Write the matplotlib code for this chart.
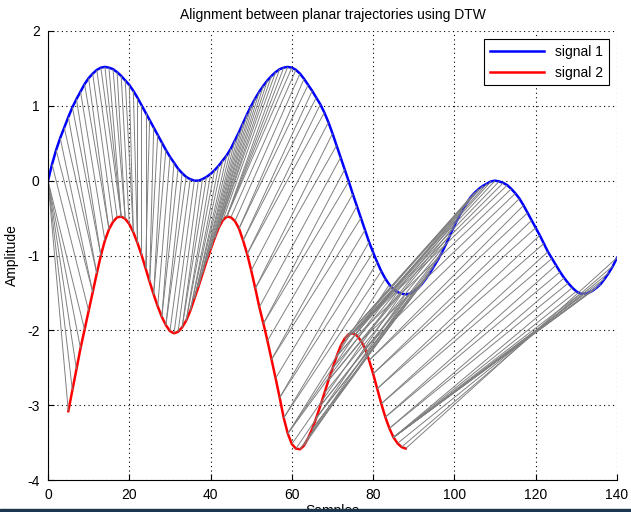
import numpy as np
import matplotlib.pyplot as plt
from matplotlib.collections import LineCollection
from matplotlib.patches import Rectangle

plt.rcParams["font.family"] = ["Liberation Sans", "DejaVu Sans"]
plt.rcParams["axes.unicode_minus"] = False

# signal 1: samples 0..140
x1 = list(range(0, 141))
signal1 = [
    0.00, 0.22, 0.41, 0.57, 0.71, 0.85, 0.98, 1.09, 1.19, 1.29,
    1.37, 1.43, 1.48, 1.51, 1.52, 1.51, 1.49, 1.45, 1.40, 1.34,
    1.28, 1.20, 1.11, 1.01, 0.91, 0.81, 0.71, 0.61, 0.51, 0.41,
    0.32, 0.24, 0.16, 0.10, 0.05, 0.02, 0.00, 0.00, 0.02, 0.05,
    0.09, 0.14, 0.20, 0.27, 0.34, 0.43, 0.54, 0.65, 0.77, 0.89,
    1.00, 1.10, 1.19, 1.27, 1.34, 1.40, 1.45, 1.49, 1.51, 1.52,
    1.51, 1.48, 1.43, 1.36, 1.28, 1.20, 1.11, 1.02, 0.91, 0.78,
    0.63, 0.47, 0.31, 0.15, -0.01, -0.18, -0.34, -0.50, -0.66, -0.82,
    -0.96, -1.09, -1.21, -1.31, -1.39, -1.45, -1.49, -1.51, -1.52, -1.51,
    -1.48, -1.44, -1.38, -1.31, -1.23, -1.14, -1.05, -0.95, -0.84, -0.72,
    -0.60, -0.49, -0.39, -0.30, -0.22, -0.16, -0.11, -0.07, -0.04, -0.01,
    0.00, -0.01, -0.03, -0.06, -0.11, -0.17, -0.24, -0.33, -0.43, -0.53,
    -0.63, -0.73, -0.84, -0.95, -1.04, -1.13, -1.22, -1.30, -1.37, -1.43,
    -1.48, -1.51, -1.51, -1.50, -1.47, -1.43, -1.38, -1.31, -1.23, -1.14,
    -1.03,
]

# signal 2: samples 5..88
x2 = list(range(5, 89))
signal2 = [
    -3.08, -2.80, -2.52, -2.24, -1.99, -1.74, -1.49, -1.24, -1.00, -0.80,
    -0.65, -0.55, -0.49, -0.48, -0.51, -0.58, -0.69, -0.83, -0.99, -1.17,
    -1.35, -1.52, -1.68, -1.82, -1.93, -2.01, -2.04, -2.02, -1.96, -1.87,
    -1.74, -1.58, -1.42, -1.25, -1.08, -0.92, -0.77, -0.63, -0.53, -0.48,
    -0.49, -0.54, -0.64, -0.80, -0.98, -1.20, -1.44, -1.69, -1.91, -2.14,
    -2.39, -2.64, -2.90, -3.17, -3.38, -3.52, -3.58, -3.59, -3.54, -3.44,
    -3.32, -3.17, -3.01, -2.84, -2.67, -2.51, -2.35, -2.21, -2.11, -2.05,
    -2.04, -2.07, -2.14, -2.24, -2.40, -2.58, -2.78, -2.98, -3.16, -3.31,
    -3.43, -3.51, -3.56, -3.58,
]

# dtw between the two (mean removed) signals
a = np.array(signal1) - np.mean(signal1)
b = np.array(signal2) - np.mean(signal2)
n, m = len(a), len(b)
D = np.full((n + 1, m + 1), np.inf)
D[0, 0] = 0
for i in range(1, n + 1):
    for j in range(1, m + 1):
        c = abs(a[i - 1] - b[j - 1])
        D[i, j] = c + min(D[i - 1, j - 1], D[i - 1, j], D[i, j - 1])
i, j = n, m
path = []
while i > 0 and j > 0:
    path.append((i - 1, j - 1))
    k = np.argmin([D[i - 1, j - 1], D[i - 1, j], D[i, j - 1]])
    if k == 0:
        i, j = i - 1, j - 1
    elif k == 1:
        i = i - 1
    else:
        j = j - 1

segs = [[(x1[p], signal1[p]), (x2[q], signal2[q])] for p, q in path]

fig = plt.figure(figsize=(6.31, 5.12), dpi=100)
ax = fig.add_axes([48 / 631, 32 / 512, 569 / 631, 449 / 512])

ax.plot(x1, signal1, color="blue", lw=1.8, label="signal 1")
ax.plot(x2, signal2, color="red", lw=1.8, label="signal 2")
ax.add_collection(LineCollection(segs, colors="#808080", linewidths=0.7))

ax.set_xlim(0, 140)
ax.set_ylim(-4, 2)
ax.set_xticks(range(0, 141, 20))
ax.set_yticks(range(-4, 3))
ax.grid(True, color="black", linestyle=(0, (1, 3)), linewidth=0.8)
ax.tick_params(direction="in", length=4, labelsize=10, pad=6)
ax.spines["top"].set_visible(False)
ax.spines["right"].set_visible(False)

ax.set_title("Alignment between planar trajectories using DTW", fontsize=10, pad=9)
ax.set_ylabel("Amplitude", fontsize=10, labelpad=6)
fig.text(332 / 631, 1 - 504 / 512, "Samples", fontsize=10, ha="center", va="top")

leg = ax.legend(loc="upper right", fancybox=False, edgecolor="black", framealpha=1,
                fontsize=10, handlelength=3.9, borderaxespad=0.6)
leg.get_frame().set_linewidth(0.8)

fig.add_artist(Rectangle((0, 0), 1, 3 / 512, transform=fig.transFigure,
                         color="#1c3650", zorder=10))

fig.savefig("out.png", dpi=100)
